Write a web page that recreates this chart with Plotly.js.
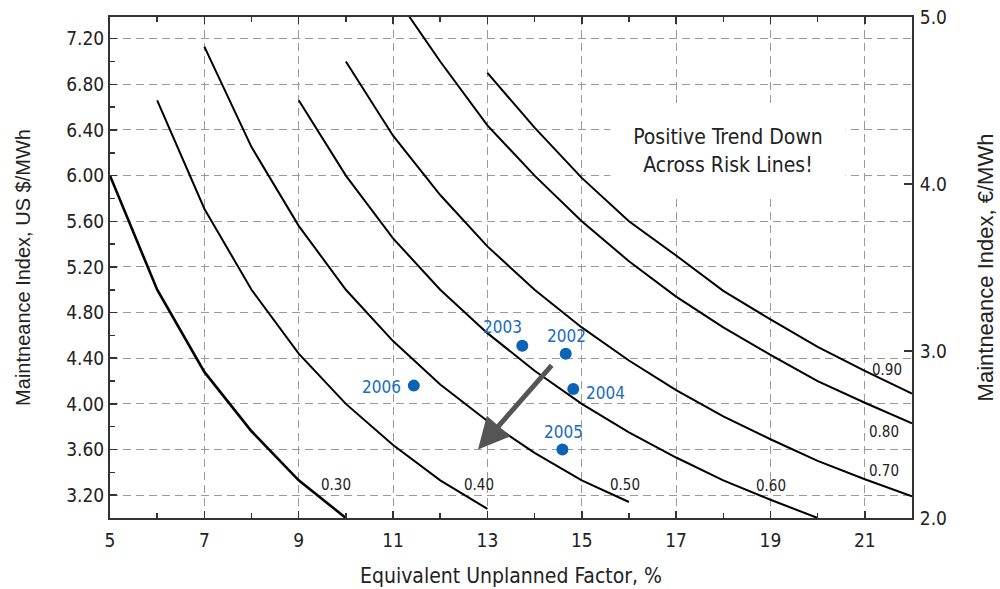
<!DOCTYPE html>
<html>
<head>
<meta charset="utf-8">
<script src="https://cdn.plot.ly/plotly-3.0.1.min.js"></script>
<style>
html,body{margin:0;padding:0;background:#fff;}
#chart{width:1000px;height:589px;}
</style>
</head>
<body>
<div id="chart"></div>
<script>
// Risk lines (Maintenance Index US $/MWh vs Equivalent Unplanned Factor %)
const riskLabels = ['0.30', '0.40', '0.50', '0.60', '0.70', '0.80', '0.90'];
const risk030X = [5, 6, 7, 8, 9, 10];
const risk030Y = [6.00, 5.00, 4.28, 3.76, 3.33, 3.00];
const risk040X = [6, 7, 8, 9, 10, 11, 12, 13];
const risk040Y = [6.66, 5.71, 5.00, 4.44, 4.00, 3.64, 3.33, 3.08];
const risk050X = [7, 8, 9, 10, 11, 12, 13, 14, 15, 16];
const risk050Y = [7.13, 6.25, 5.56, 5.00, 4.55, 4.17, 3.85, 3.57, 3.33, 3.14];
const risk060X = [9, 10, 11, 12, 13, 14, 15, 16, 17, 18, 19, 20];
const risk060Y = [6.66, 6.00, 5.45, 5.00, 4.62, 4.29, 4.00, 3.75, 3.53, 3.33, 3.16, 3.00];
const risk070X = [10, 11, 12, 13, 14, 15, 16, 17, 18, 19, 20, 21, 22];
const risk070Y = [7.00, 6.35, 5.83, 5.38, 5.00, 4.67, 4.38, 4.12, 3.89, 3.69, 3.50, 3.34, 3.19];
const risk080X = [11.3, 12, 13, 14, 15, 16, 17, 18, 19, 20, 21, 22];
const risk080Y = [7.42, 7.00, 6.44, 6.00, 5.60, 5.25, 4.94, 4.67, 4.43, 4.20, 4.01, 3.83];
const risk090X = [13, 14, 15, 16, 17, 18, 19, 20, 21, 22];
const risk090Y = [6.90, 6.42, 5.98, 5.60, 5.30, 4.99, 4.74, 4.50, 4.29, 4.09];

// Yearly plant results
const years = ['2002', '2003', '2004', '2005', '2006'];
const eufValues = [14.66, 13.74, 14.82, 14.59, 11.44];
const miValues = [4.44, 4.51, 4.13, 3.60, 4.16];

// Curve label positions
const riskLabelX = [9.79, 12.82, 15.91, 19.02, 21.40, 21.40, 21.48];
const riskLabelY = [3.29, 3.29, 3.29, 3.28, 3.41, 3.75, 4.30];

// Trend arrow (tail -> head)
const arrowTail = [14.39, 4.35];
const arrowHead = [12.80, 3.60];

// Axis ticks
const xTickVals = [5, 7, 9, 11, 13, 15, 17, 19, 21];
const yTickVals = [3.2, 3.6, 4.0, 4.4, 4.8, 5.2, 5.6, 6.0, 6.4, 6.8, 7.2];
const y2TickVals = [2.0, 3.0, 4.0, 5.0];

const FONT = 'DejaVu Sans Condensed, Roboto, sans-serif';
const FONT_Y = 'Liberation Sans, Arial, sans-serif';
const TXT = '#222222';
const BLUE = '#0a63b5';

const riskX = [risk030X, risk040X, risk050X, risk060X, risk070X, risk080X, risk090X];
const riskY = [risk030Y, risk040Y, risk050Y, risk060Y, risk070Y, risk080Y, risk090Y];

const traces = riskX.map((xs, i) => ({
  type: 'scatter', mode: 'lines', x: xs, y: riskY[i],
  line: {color: '#000', width: i === 0 ? 2.6 : 2},
  hoverinfo: 'skip', showlegend: false
}));

traces.push({
  type: 'scatter', mode: 'markers', x: eufValues, y: miValues,
  marker: {color: BLUE, size: 12},
  text: years, hoverinfo: 'text', showlegend: false
});

// placeholder trace so that the € axis is built (draws nothing)
traces.push({
  type: 'scatter', mode: 'markers', x: [null], y: [null], yaxis: 'y2',
  hoverinfo: 'skip', showlegend: false
});

const yearShift = {
  '2002': {xanchor: 'center', yanchor: 'bottom', xshift: 1, yshift: 6},
  '2003': {xanchor: 'center', yanchor: 'bottom', xshift: -20, yshift: 7},
  '2004': {xanchor: 'left', yanchor: 'middle', xshift: 11, yshift: -4},
  '2005': {xanchor: 'center', yanchor: 'bottom', xshift: 1, yshift: 6},
  '2006': {xanchor: 'right', yanchor: 'middle', xshift: -11, yshift: -1}
};

const annotations = [];
years.forEach((yr, i) => {
  const s = yearShift[yr];
  annotations.push({
    x: eufValues[i], y: miValues[i], xref: 'x', yref: 'y', text: yr,
    showarrow: false, xanchor: s.xanchor, yanchor: s.yanchor,
    xshift: s.xshift, yshift: s.yshift,
    font: {family: FONT, size: 17, color: '#1a6bbf'}
  });
});

riskLabels.forEach((lab, i) => {
  annotations.push({
    x: riskLabelX[i], y: riskLabelY[i], xref: 'x', yref: 'y', text: lab,
    showarrow: false, xanchor: 'center', yanchor: 'middle',
    font: {family: FONT, size: 15, color: TXT}
  });
});

annotations.push({
  x: arrowHead[0], y: arrowHead[1], ax: arrowTail[0], ay: arrowTail[1],
  xref: 'x', yref: 'y', axref: 'x', ayref: 'y', text: '',
  showarrow: true, arrowhead: 2, arrowsize: 1.25, arrowwidth: 5, arrowcolor: '#555555'
});

annotations.push({
  x: 18.09, y: 6.22, xref: 'x', yref: 'y',
  text: 'Positive Trend Down<br>Across Risk Lines!',
  showarrow: false, bgcolor: '#ffffff', width: 234, height: 92, borderpad: 0,
  align: 'center', font: {family: FONT, size: 21, color: TXT}
});

const axisCommon = {
  showline: true, linecolor: '#333333', linewidth: 2,
  ticks: 'inside', tickcolor: '#333333', tickwidth: 1.5, ticklen: 7,
  tickfont: {family: FONT, size: 19, color: TXT},
  zeroline: false
};

const layout = {
  width: 1000, height: 589,
  margin: {l: 110, r: 88, t: 17, b: 71},
  paper_bgcolor: '#ffffff', plot_bgcolor: '#ffffff',
  showlegend: false,
  font: {family: FONT, color: TXT},
  xaxis: Object.assign({}, axisCommon, {
    range: [5, 22], tickvals: xTickVals, ticktext: xTickVals.map(String),
    mirror: 'ticks', ticklabelstandoff: 4,
    showgrid: true, gridcolor: '#9a9a9a', gridwidth: 1, griddash: '8px,5px',
    minor: {dtick: 1, tick0: 5, ticks: 'inside', ticklen: 5, tickcolor: '#333333', tickwidth: 1.5, showgrid: false},
    title: {text: 'Equivalent Unplanned Factor, %', font: {family: FONT, size: 21, color: TXT}, standoff: 19}
  }),
  yaxis: Object.assign({}, axisCommon, {
    range: [3.0, 7.39], tickvals: yTickVals, ticktext: yTickVals.map(v => v.toFixed(2)),
    showgrid: true, gridcolor: '#9a9a9a', gridwidth: 1, griddash: '8px,5px',
    minor: {dtick: 0.2, tick0: 3.0, ticks: 'inside', ticklen: 5, tickcolor: '#333333', tickwidth: 1.5, showgrid: false},
    title: {text: 'Maintneance Index, US $/MWh', font: {family: FONT_Y, size: 20, color: TXT}, standoff: 30}
  }),
  yaxis2: Object.assign({}, axisCommon, {
    overlaying: 'y', side: 'right', anchor: 'x',
    range: [2.0, 5.0], tickvals: y2TickVals, ticktext: y2TickVals.map(v => v.toFixed(1)),
    showgrid: false, ticklen: 8, ticklabelstandoff: 2,
    title: {text: 'Maintneance Index, €/MWh', font: {family: FONT_Y, size: 22, color: TXT}, standoff: 32}
  }),
  annotations: annotations
};

Plotly.newPlot('chart', traces, layout, {displayModeBar: false, staticPlot: true});
</script>
</body>
</html>
